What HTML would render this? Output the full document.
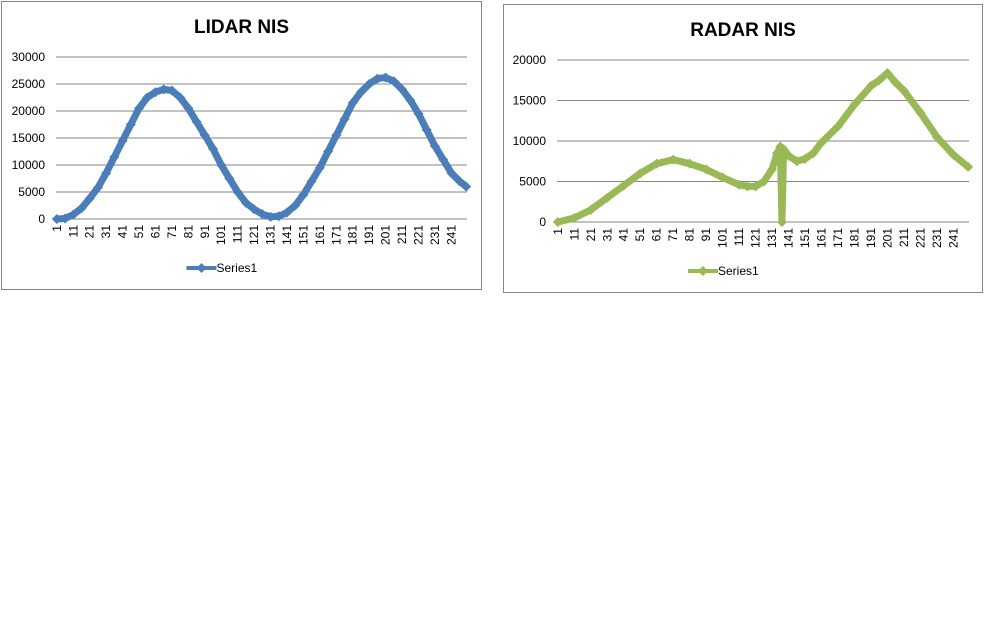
<!DOCTYPE html>
<html><head><meta charset="utf-8"><style>
body{margin:0;background:#fff;width:1008px;height:630px;overflow:hidden;font-family:"Liberation Sans",sans-serif}
svg text{font-family:"Liberation Sans",sans-serif}
</style></head><body>
<svg width="1008" height="630">
<g id="lidar"></g>
<g id="radar"></g>
</svg>
<script>
const lidarIdx=[1,6,11,16,21,26,31,36,41,46,51,56,61,66,71,76,81,86,91,96,101,106,111,116,121,126,131,136,141,146,151,156,161,166,171,176,181,186,191,196,201,206,211,216,221,226,231,236,241,246,250];
const lidarVals=[0,100,800,2000,3800,5800,8500,11500,14500,17500,20500,22500,23500,24000,23800,22500,20500,18000,15500,13000,10000,7500,5000,3000,1800,900,400,500,1200,2500,4500,7000,9500,12500,15500,18500,21500,23500,25000,26000,26200,25500,24000,22000,19500,16500,13500,11000,8500,7000,6000];
const radarIdx=[1,11,21,31,41,51,61,71,81,91,101,111,116,121,126,131,134,136,137,138,141,146,151,156,161,171,181,191,196,201,206,211,221,231,241,250];
const radarVals=[0,500,1500,3000,4500,6000,7200,7700,7200,6500,5500,4600,4400,4400,5000,6500,8500,9300,0,9000,8200,7500,7800,8500,9800,11800,14500,16800,17500,18400,17200,16200,13500,10500,8300,6800];
const lidarTicks=[0,5000,10000,15000,20000,25000,30000];
const radarTicks=[0,5000,10000,15000,20000];
const NS='http://www.w3.org/2000/svg';
function mk(p,t,a){const e=document.createElementNS(NS,t);for(const k in a)e.setAttribute(k,a[k]);p.appendChild(e);return e;}
function chart(g,cfg){
  const b=mk(g,'rect',{x:cfg.bx,y:cfg.by,width:cfg.bw,height:cfg.bh,fill:'#fff',stroke:'#868686','stroke-width':1});
  
  
  const t=mk(g,'text',{x:cfg.bx+cfg.bw/2,y:cfg.ty,'text-anchor':'middle','font-size':19,'font-weight':'bold',fill:'#000'});
  t.textContent=cfg.title;
  
  
  const ymax=cfg.ticks[cfg.ticks.length-1];
  const yS=v=>cfg.y0-(v/ymax)*(cfg.y0-cfg.y1);
  const n=250,cw=(cfg.x1-cfg.x0)/n;
  const xS=i=>cfg.x0+(i-0.5)*cw;
  cfg.ticks.forEach(v=>{
    const l=mk(g,'line',{x1:cfg.x0,x2:cfg.x1,y1:yS(v),y2:yS(v),stroke:'#868686','stroke-width':1});
    
    
    const tx=mk(g,'text',{x:cfg.x0-11,y:yS(v)+4,'text-anchor':'end','font-size':12,fill:'#000'});
    tx.textContent=v;
    
    
  });
  for(let i=1;i<=241;i+=10){
    const tx=mk(g,'text',{transform:`translate(${xS(i)+4},${cfg.y0+6}) rotate(-90)`,'text-anchor':'end','font-size':12,fill:'#000'});
    tx.textContent=i;
    
    
  }
  const pts=cfg.idx.map((i,k)=>xS(i)+','+yS(cfg.vals[k])).join(' ');
  const pl=mk(g,'polyline',{points:pts,fill:'none',stroke:cfg.color,'stroke-width':7,'stroke-linejoin':'round'});
  
  
  cfg.idx.forEach((i,k)=>{
    const x=xS(i),y=yS(cfg.vals[k]);
    const d=mk(g,'polygon',{points:`${x},${y-5} ${x+5},${y} ${x},${y+5} ${x-5},${y}`,fill:cfg.color});
    
    
  });
  const lx=cfg.bx+cfg.bw/2-30;
  const ll=mk(g,'line',{x1:lx-25,x2:lx+5,y1:cfg.ly,y2:cfg.ly,stroke:cfg.color,'stroke-width':4});
  
  
  const lm=mk(g,'polygon',{points:`${lx-10},${cfg.ly-5} ${lx-5},${cfg.ly} ${lx-10},${cfg.ly+5} ${lx-15},${cfg.ly}`,fill:cfg.color});
  
  
  const lt=mk(g,'text',{x:lx+5,y:cfg.ly+4,'font-size':12,fill:'#000'});
  lt.textContent='Series1';
  
  
}
chart(document.getElementById('lidar'),{bx:1.5,by:1.5,bw:480,bh:288,title:'LIDAR NIS',ty:33,x0:56,x1:467,y0:219,y1:57,ticks:lidarTicks,idx:lidarIdx,vals:lidarVals,color:'#4a7ebb',ly:268});
chart(document.getElementById('radar'),{bx:503.5,by:4.5,bw:479,bh:288,title:'RADAR NIS',ty:36,x0:557,x1:969,y0:222,y1:60,ticks:radarTicks,idx:radarIdx,vals:radarVals,color:'#98b954',ly:271});
</script>
</body></html>
